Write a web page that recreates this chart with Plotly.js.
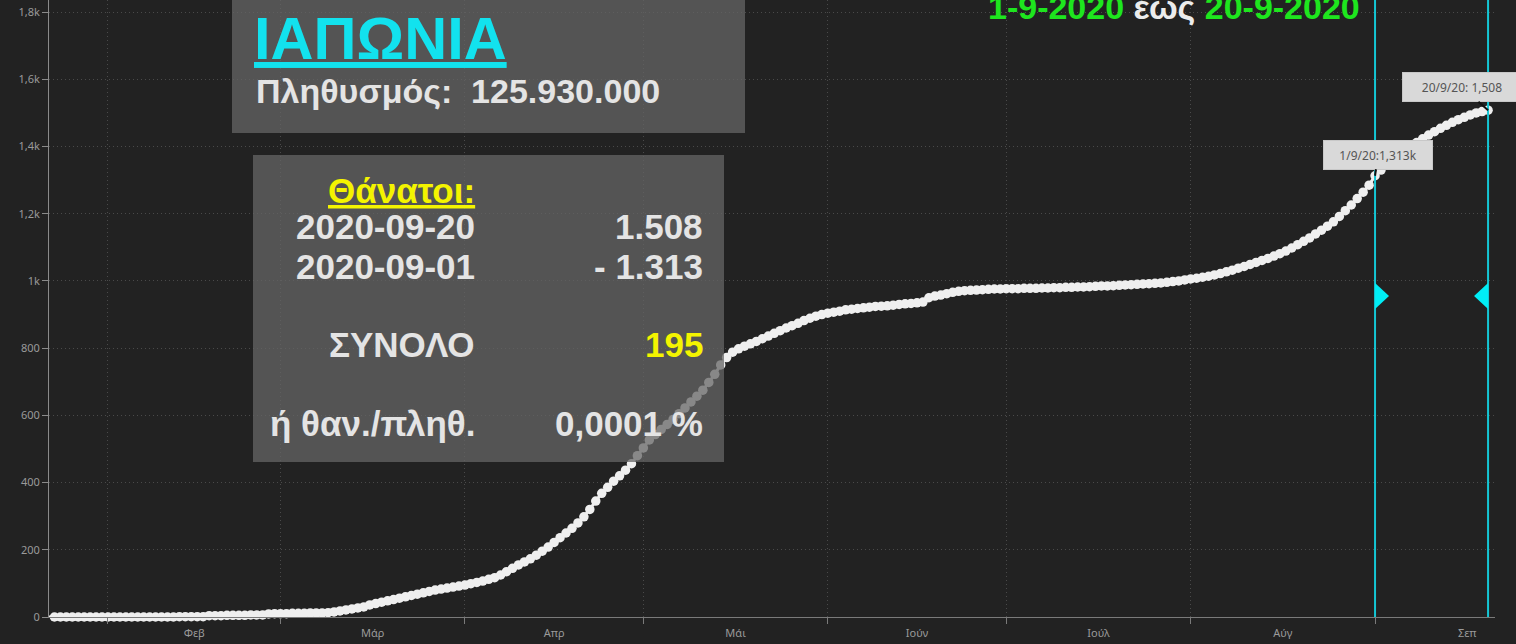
<!DOCTYPE html>
<html>
<head>
<meta charset="utf-8">
<script src="https://cdn.plot.ly/plotly-3.0.1.min.js"></script>
<style>
  html, body { margin: 0; padding: 0; background: #222222; overflow: hidden; }
  #chart { width: 1516px; height: 644px; }
</style>
</head>
<body>
<div id="chart"></div>
<script>
// ---- Data: Japan cumulative deaths, daily from 2020-01-22 to 2020-09-20 ----
const startDate = '2020-01-22';
const deathsJan = [0,0,0,0,0,0,0,0,0,0];
const deathsFeb = [0,0,0,0,0,0,0,0,0,0,0,0,1,1,1,1,1,4,4,4,5,5,5,5,6,6,6,9,10];
const deathsMar = [10,10,11,11,11,12,12,12,13,15,18,21,24,27,30,36,40,44,48,52,56,60,64,68,72,76,80,83,86,89,92];
const deathsApr = [95,99,103,107,112,117,125,135,145,155,164,173,184,196,208,222,236,250,264,280,298,320,345,368,386,404,420,437,456,480];
const deathsMay = [503,527,543,558,573,588,605,622,640,657,675,698,722,750,772,788,798,806,813,820,828,836,844,852,860,867,874,882,889,895,900];
const deathsJun = [904,907,910,914,916,918,920,922,924,925,926,928,930,932,933,935,937,950,955,958,962,966,969,971,972,973,974,975,976,976];
const deathsJul = [977,977,977,978,978,978,979,979,980,980,981,981,982,982,983,984,985,985,986,987,988,989,990,991,992,993,994,996,998,1000,1003];
const deathsAug = [1006,1008,1011,1014,1018,1022,1027,1032,1038,1043,1049,1055,1061,1067,1074,1081,1089,1098,1108,1118,1128,1140,1151,1163,1176,1192,1209,1226,1245,1264,1285];
const deathsSep = [1313,1330,1346,1361,1375,1388,1400,1412,1423,1434,1444,1454,1463,1472,1480,1487,1494,1500,1504,1508];

// Greek month names for the axis
const monthNames = ['Ιανουάριος','Φεβρουάριος','Μάρτιος','Απρίλιος','Μάιος','Ιούνιος','Ιούλιος','Αύγουστος','Σεπτέμβριος','Οκτώβριος','Νοέμβριος','Δεκέμβριος'];
const monthShort = ['Ιαν','Φεβ','Μάρ','Απρ','Μάι','Ιούν','Ιούλ','Αύγ','Σεπ','Οκτ','Νοέ','Δεκ'];

// Period markers
const periodStart = '2020-09-01';
const periodEnd = '2020-09-20';
const periodStartValue = 1313;
const periodEndValue = 1508;
const tipStart = '1/9/20:1,313k';
const tipEnd = '20/9/20: 1,508';
const markerLevel = 955;

// Info texts
const country = 'ΙΑΠΩΝΙΑ';
const populationLabel = 'Πληθυσμός:';
const populationValue = '125.930.000';
const deathsLabel = 'Θάνατοι:';
const rowLabels = ['2020-09-20', '2020-09-01', 'ΣΥΝΟΛΟ', 'ή θαν./πληθ.'];
const rowValues = ['1.508', '- 1.313', '195', '0,0001 %'];
const titleFrom = '1-9-2020';
const titleMid = 'έως';
const titleTo = '20-9-2020';

// ---- Build series ----
const deaths = [].concat(deathsJan, deathsFeb, deathsMar, deathsApr, deathsMay, deathsJun, deathsJul, deathsAug, deathsSep);
const dates = [];
{
  const s = new Date(startDate + 'T00:00:00Z');
  for (let i = 0; i < deaths.length; i++) {
    const d = new Date(Date.UTC(s.getUTCFullYear(), s.getUTCMonth(), s.getUTCDate() + i));
    dates.push(d.toISOString().slice(0, 10));
  }
}

Plotly.register({
  moduleType: 'locale',
  name: 'el',
  dictionary: {},
  format: {
    days: ['Κυριακή','Δευτέρα','Τρίτη','Τετάρτη','Πέμπτη','Παρασκευή','Σάββατο'],
    shortDays: ['Κυρ','Δευ','Τρί','Τετ','Πέμ','Παρ','Σάβ'],
    months: monthNames,
    shortMonths: monthShort,
    date: '%d/%m/%Y',
    decimal: ',',
    thousands: '.'
  }
});

// ---- Layout helpers (pixel -> paper) ----
const L = 49, R = 1495, T = 0, B = 617;
const px = x => (x - L) / (R - L);
const py = y => (B - y) / (B - T);

const boldFont = 'Liberation Sans, Arial, sans-serif';
const textGrey = '#e4e4e4';
const yellow = '#f4f400';
const cyan = '#12e2ee';
const green = '#1ee61e';

const trace = {
  type: 'scatter',
  mode: 'lines+markers',
  x: dates,
  y: deaths,
  line: { color: '#efefef', width: 3 },
  marker: { color: '#efefef', size: 9.5 },
  cliponaxis: false,
  hoverinfo: 'skip'
};

function txt(text, x, y, anchor, size, color) {
  return {
    xref: 'paper', yref: 'paper', x: px(x), y: py(y),
    xanchor: anchor, yanchor: 'middle', showarrow: false,
    text: text, font: { family: boldFont, size: size, color: color }
  };
}

const annotations = [
  txt('<b><u>' + country + '</u></b>', 252, 38.5, 'left', 59.5, cyan),
  txt('<b>' + populationLabel + '\u00a0\u00a0' + populationValue + '</b>', 254, 91, 'left', 34, textGrey),
  txt('<b><u>' + deathsLabel + '</u></b>', 477, 190, 'right', 35, yellow),
  txt('<b>' + rowLabels[0] + '</b>', 477, 227, 'right', 35, textGrey),
  txt('<b>' + rowValues[0] + '</b>', 705, 227, 'right', 35, textGrey),
  txt('<b>' + rowLabels[1] + '</b>', 477, 266, 'right', 35, textGrey),
  txt('<b>' + rowValues[1] + '</b>', 705, 266, 'right', 35, textGrey),
  txt('<b>' + rowLabels[2] + '</b>', 477, 344, 'right', 35, textGrey),
  txt('<b>' + rowValues[2] + '</b>', 705, 344, 'right', 35, yellow),
  txt('<b>' + rowLabels[3] + '</b>', 477, 423, 'right', 35, textGrey),
  txt('<b>' + rowValues[3] + '</b>', 705, 423, 'right', 35, textGrey),
  txt('<b><span style="color:' + green + '">' + titleFrom + '</span> ' + titleMid +
      ' <span style="color:' + green + '">' + titleTo + '</span></b>', 1174, 7, 'center', 34, '#ececec'),
  {
    x: periodStart, y: periodStartValue, xref: 'x', yref: 'y',
    text: tipStart, showarrow: true, arrowhead: 0, arrowcolor: '#111', arrowwidth: 2,
    ax: 3, ay: -21, bgcolor: '#d9d9d9', bordercolor: '#c8c8c8', borderwidth: 1,
    width: 106, height: 26, font: { family: 'Noto Sans, sans-serif', size: 12, color: '#555' }
  },
  {
    x: periodEnd, y: periodEndValue, xref: 'x', yref: 'y',
    text: tipEnd, showarrow: true, arrowhead: 0, arrowcolor: '#111', arrowwidth: 2,
    ax: -26, ay: -23, bgcolor: '#d9d9d9', bordercolor: '#c8c8c8', borderwidth: 1,
    width: 116, height: 26, font: { family: 'Noto Sans, sans-serif', size: 12, color: '#555' }
  }
];

const shapes = [
  { type: 'rect', xref: 'paper', yref: 'paper', x0: px(232), x1: px(745), y0: py(133), y1: py(-5),
    fillcolor: 'rgba(102,102,102,0.75)', line: { width: 0 }, layer: 'above' },
  { type: 'rect', xref: 'paper', yref: 'paper', x0: px(253), x1: px(724), y0: py(462), y1: py(155),
    fillcolor: 'rgba(102,102,102,0.75)', line: { width: 0 }, layer: 'above' },
  { type: 'line', xref: 'x', yref: 'paper', x0: periodStart, x1: periodStart, y0: 0, y1: 1,
    line: { color: '#14c6d4', width: 2 }, layer: 'above' },
  { type: 'line', xref: 'x', yref: 'paper', x0: periodEnd, x1: periodEnd, y0: 0, y1: 1,
    line: { color: '#14c6d4', width: 2 }, layer: 'above' },
  { type: 'path', xref: 'x', yref: 'y', xsizemode: 'pixel', ysizemode: 'pixel',
    xanchor: periodStart, yanchor: markerLevel, path: 'M0,13 L14,0 L0,-13 Z',
    fillcolor: '#00eef6', line: { width: 0 }, layer: 'above' },
  { type: 'path', xref: 'x', yref: 'y', xsizemode: 'pixel', ysizemode: 'pixel',
    xanchor: periodEnd, yanchor: markerLevel, path: 'M0,13 L-14,0 L0,-13 Z',
    fillcolor: '#00eef6', line: { width: 0 }, layer: 'above' }
];

const layout = {
  width: 1516, height: 644,
  paper_bgcolor: '#222222', plot_bgcolor: '#222222',
  margin: { l: L, r: 1516 - R, t: T, b: 644 - B },
  showlegend: false,
  separators: ',.',
  font: { family: 'Noto Sans, sans-serif', color: '#9a9a9a', size: 11 },
  xaxis: {
    type: 'date',
    range: ['2020-01-22 02:00', '2020-09-21 04:00'],
    dtick: 'M1', tickformat: '%b', ticklabelmode: 'period',
    showgrid: true, gridcolor: '#4a4a4a', griddash: '1px,3px', gridwidth: 1,
    showline: true, linecolor: '#7a7a7a', linewidth: 1,
    ticks: 'outside', ticklen: 6, tickcolor: '#7a7a7a',
    tickfont: { size: 11, color: '#9a9a9a' },
    zeroline: false, fixedrange: true
  },
  yaxis: {
    range: [0, 1836], dtick: 200, tick0: 0, tickformat: '~s',
    showgrid: true, gridcolor: '#4a4a4a', griddash: '1px,3px', gridwidth: 1,
    showline: true, linecolor: '#8a8a8a', linewidth: 1,
    ticks: 'outside', ticklen: 6, tickcolor: '#8a8a8a',
    tickfont: { size: 11, color: '#9a9a9a' },
    zeroline: false, fixedrange: true
  },
  shapes: shapes,
  annotations: annotations
};

Plotly.newPlot('chart', [trace], layout, { displayModeBar: false, locale: 'el', responsive: false });
</script>
</body>
</html>
